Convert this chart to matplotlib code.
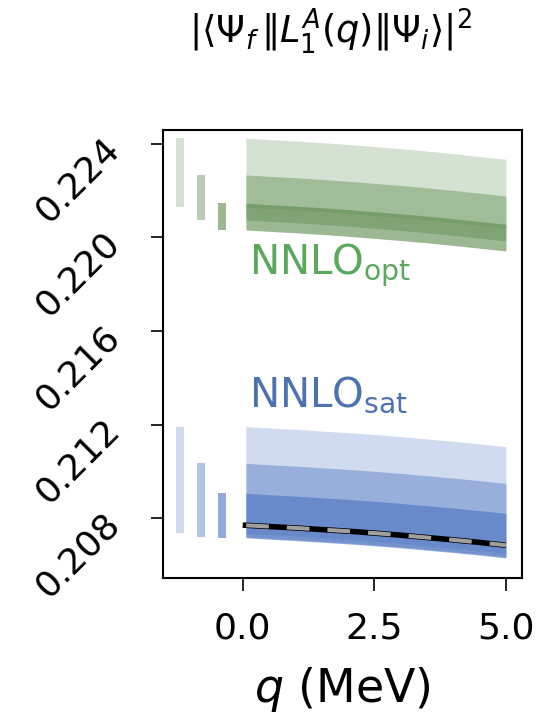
import matplotlib
matplotlib.use('Agg')
import matplotlib.pyplot as plt

# momentum transfer grid for the bands (MeV)
q_band = [0.06, 0.5, 1.0, 1.5, 2.0, 2.5, 3.0, 3.5, 4.0, 4.5, 5.0]
q_line = [0.0, 0.5, 1.0, 1.5, 2.0, 2.5, 3.0, 3.5, 4.0, 4.5, 5.0]

# NNLO_opt uncertainty bands (upper / lower edges), widest first
opt_hi_1 = [0.22424, 0.22418, 0.22412, 0.22405, 0.22397, 0.22388, 0.22379, 0.22369, 0.22358, 0.22346, 0.22334]
opt_lo_1 = [0.22129, 0.22123, 0.22117, 0.22110, 0.22102, 0.22093, 0.22084, 0.22074, 0.22063, 0.22051, 0.22039]
opt_hi_2 = [0.22267, 0.22261, 0.22255, 0.22248, 0.22240, 0.22231, 0.22222, 0.22212, 0.22201, 0.22189, 0.22177]
opt_lo_2 = [0.22075, 0.22069, 0.22063, 0.22056, 0.22048, 0.22039, 0.22030, 0.22020, 0.22009, 0.21997, 0.21985]
opt_hi_3 = [0.22146, 0.22140, 0.22134, 0.22127, 0.22119, 0.22110, 0.22101, 0.22091, 0.22080, 0.22068, 0.22056]
opt_lo_3 = [0.22032, 0.22026, 0.22020, 0.22013, 0.22005, 0.21996, 0.21987, 0.21977, 0.21966, 0.21954, 0.21942]

# NNLO_sat uncertainty bands
sat_hi_1 = [0.21192, 0.21186, 0.21180, 0.21173, 0.21166, 0.21158, 0.21149, 0.21139, 0.21129, 0.21118, 0.21106]
sat_lo_1 = [0.20736, 0.20730, 0.20724, 0.20717, 0.20710, 0.20702, 0.20693, 0.20683, 0.20673, 0.20662, 0.20650]
sat_hi_2 = [0.21035, 0.21029, 0.21023, 0.21016, 0.21009, 0.21001, 0.20992, 0.20982, 0.20972, 0.20961, 0.20949]
sat_lo_2 = [0.20721, 0.20715, 0.20709, 0.20702, 0.20695, 0.20687, 0.20678, 0.20668, 0.20658, 0.20647, 0.20635]
sat_hi_3 = [0.20907, 0.20901, 0.20895, 0.20888, 0.20881, 0.20873, 0.20864, 0.20854, 0.20844, 0.20833, 0.20821]
sat_lo_3 = [0.20717, 0.20711, 0.20705, 0.20698, 0.20691, 0.20683, 0.20674, 0.20664, 0.20654, 0.20643, 0.20631]

# reference curve
ref_curve = [0.20771, 0.20765, 0.20759, 0.20752, 0.20745, 0.20737, 0.20728, 0.20718, 0.20708, 0.20697, 0.20685]

bar_x = [-1.2, -0.8, -0.4]
y_ticks = [0.208, 0.212, 0.216, 0.220, 0.224]
x_ticks = [0.0, 2.5, 5.0]

green = '#5a8a4c'
blue = '#4a72c0'
alphas = [0.25, 0.42, 0.6]

plt.rcParams['lines.scale_dashes'] = False

fig = plt.figure(figsize=(5.37, 7.21), dpi=100)
ax = fig.add_axes([0.304, 0.1983, 0.6675, 0.6214])

opt_bands = [(opt_lo_1, opt_hi_1), (opt_lo_2, opt_hi_2), (opt_lo_3, opt_hi_3)]
sat_bands = [(sat_lo_1, sat_hi_1), (sat_lo_2, sat_hi_2), (sat_lo_3, sat_hi_3)]

for bands, col in [(opt_bands, green), (sat_bands, blue)]:
    for (lo, hi), a, bx in zip(bands, alphas, bar_x):
        ax.fill_between(q_band, lo, hi, color=col, alpha=a, lw=0)
        # q = 0 range shown as a bar on the left
        ax.bar(bx, hi[0] - lo[0], bottom=lo[0], width=0.15, color=col, alpha=a, lw=0)

ax.plot(q_line, ref_curve, color='black', lw=4.0, solid_capstyle='butt')
ax.plot(q_line, ref_curve, color='#a0a0a0', lw=2.9,
        linestyle=(26.8, (16.3, 13.0)))

ax.text(0.12, 0.2184, r'NNLO$_\mathrm{opt}$', color='#59a85b', fontsize=29, va='baseline')
ax.text(0.12, 0.21277, r'NNLO$_\mathrm{sat}$', color='#4c72b0', fontsize=29, va='baseline')

ax.set_xlim(-1.51, 5.30)
ax.set_ylim(0.20545, 0.22459)
ax.set_xticks(x_ticks)
ax.set_xticklabels(['0.0', '2.5', '5.0'])
ax.set_yticks(y_ticks)
ax.set_yticklabels(['0.208', '0.212', '0.216', '0.220', '0.224'])
ax.tick_params(axis='both', labelsize=26, length=9, width=1.2)
ax.tick_params(axis='x', pad=15)
ax.tick_params(axis='y', pad=26)
for lab in ax.get_yticklabels():
    lab.set_rotation(45)
    lab.set_rotation_mode('anchor')
    lab.set_ha('right')
    lab.set_va('center')
for s in ax.spines.values():
    s.set_linewidth(1.5)

ax.set_xlabel(r'$q$ (MeV)', fontsize=33, labelpad=14)
fig.text(330 / 537, 1 - 31 / 721, r'$|\langle\Psi_f\,\|L_1^A(q)\|\Psi_i\rangle|^2$',
         fontsize=26.5, ha='center', va='center')

fig.savefig('out.png', dpi=100)
